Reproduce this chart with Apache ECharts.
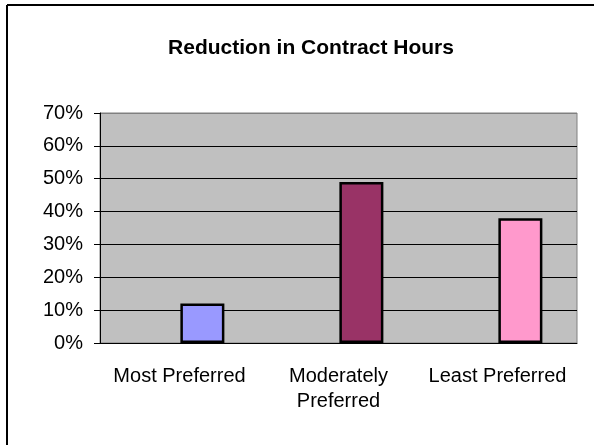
<!DOCTYPE html>
<html>
<head>
<meta charset="utf-8">
<script src="https://cdn.jsdelivr.net/npm/echarts@6/dist/echarts.min.js"></script>
<style>
html, body { margin: 0; padding: 0; background: #fff; }
#chart { width: 594px; height: 445px; }
</style>
</head>
<body>
<div id="chart"></div>
<script>
// 数据
var categories = ['Most Preferred', 'Moderately\nPreferred', 'Least Preferred'];
var reduction = [0.12, 0.49, 0.38];
var barColors = ['#9999FF', '#993366', '#FF99CC'];
var yTicks = [0, 0.1, 0.2, 0.3, 0.4, 0.5, 0.6, 0.7];

function showChart(divId) {
	var chart = echarts.init(document.getElementById(divId));
	var option = genOption();
	if (option && typeof option === "object") {
		chart.setOption(option, true);
	}
}

function genOption() {
	var font = "'Liberation Sans', Arial, sans-serif";
	var option = {
		animation : false,
		title : {
			text : 'Reduction in Contract Hours',
			left : 306,
			top : 33,
			textAlign : 'center',
			textStyle : {
				color : '#000',
				fontWeight : 'bold',
				fontFamily : font,
				fontSize : 21
			}
		},
		graphic : [ {
			type : 'line',
			shape : { x1 : 7, y1 : 5, x2 : 600, y2 : 5 },
			style : { stroke : '#000', lineWidth : 2 }
		}, {
			type : 'line',
			shape : { x1 : 7, y1 : 5, x2 : 7, y2 : 450 },
			style : { stroke : '#000', lineWidth : 2 }
		} ],
		grid : {
			left : 100,
			right : 17,
			top : 113,
			bottom : 102,
			show : true,
			backgroundColor : '#C0C0C0',
			borderColor : '#808080',
			borderWidth : 1
		},
		xAxis : {
			type : 'category',
			data : categories,
			axisLine : { lineStyle : { color : '#000', width : 1 } },
			axisTick : { length : 6, lineStyle : { color : '#000' } },
			axisLabel : {
				color : '#000',
				fontFamily : font,
				fontSize : 20,
				lineHeight : 25,
				margin : 21,
				interval : 0
			}
		},
		yAxis : {
			type : 'value',
			min : 0,
			max : yTicks[yTicks.length - 1],
			interval : 0.1,
			axisLine : { show : true, lineStyle : { color : '#000', width : 1 } },
			axisTick : { show : true, length : 6, lineStyle : { color : '#000' } },
			axisLabel : {
				color : '#000',
				fontFamily : font,
				fontSize : 20,
				margin : 17,
				formatter : function (v) { return Math.round(v * 100) + '%'; }
			},
			splitLine : {
				show : true,
				lineStyle : {
					// 顶部为灰色边框
					color : [ '#000', '#000', '#000', '#000', '#000', '#000', '#000', '#808080' ],
					width : 1
				}
			}
		},
		series : [ {
			name : 'blank',
			type : 'bar',
			barWidth : 44,
			barGap : '4%',
			data : [ '-', '-', '-' ]
		}, {
			name : 'Reduction',
			type : 'bar',
			barWidth : 44,
			barGap : '4%',
			itemStyle : {
				borderColor : '#000',
				borderWidth : 2.5
			},
			data : reduction.map(function (v, i) {
				return { value : v, itemStyle : { color : barColors[i] } };
			})
		} ]
	};
	return option;
}

showChart('chart');
</script>
</body>
</html>
